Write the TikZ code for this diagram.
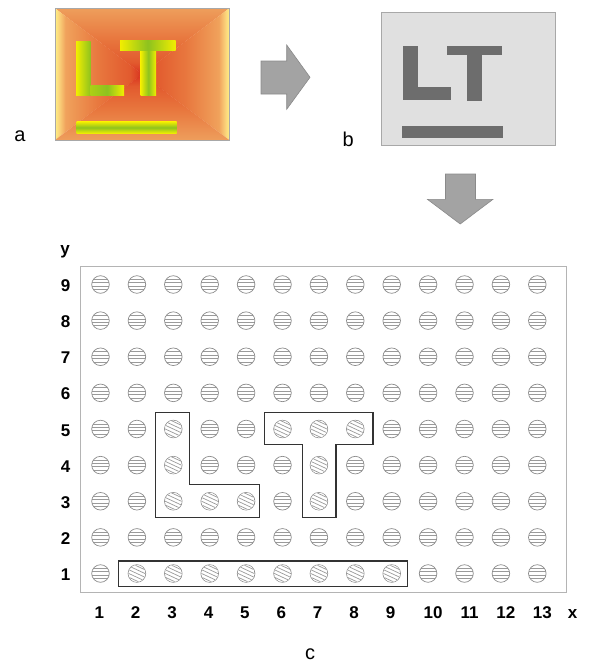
\documentclass[tikz,border=0pt]{standalone}
\usepackage{fontspec}
\setmainfont{Liberation Sans}
\usetikzlibrary{calc}
\definecolor{aY}{HTML}{FFF084}
\definecolor{aY2}{HTML}{FAD079}
\definecolor{aO1}{HTML}{F0A25C}
\definecolor{aO2}{HTML}{E8773E}
\definecolor{aO3}{HTML}{E25A2E}
\definecolor{aR}{HTML}{D8301E}
\definecolor{aOT}{HTML}{EE9E5C}
\definecolor{lY}{HTML}{F2EE00}
\definecolor{lG}{HTML}{8DC21F}
\definecolor{bgB}{HTML}{E0E0E0}
\definecolor{bdB}{HTML}{A8A8A8}
\definecolor{ltB}{HTML}{6D6D6D}
\definecolor{arrF}{HTML}{A3A3A3}
\definecolor{arrD}{HTML}{8A8A8A}
\definecolor{dotline}{HTML}{8C8C8C}
\definecolor{hatch}{HTML}{9A9A9A}
\definecolor{frameC}{HTML}{B4B4B4}
\definecolor{polyC}{HTML}{333333}
\pgfdeclarehorizontalshading{padL}{100bp}{color(0bp)=(aY); color(25bp)=(aY); color(27.5bp)=(aY2); color(31bp)=(aO1); color(50bp)=(aO2); color(68bp)=(aO3); color(75bp)=(aR); color(100bp)=(aR)}
\pgfdeclarehorizontalshading{padR}{100bp}{color(0bp)=(aR); color(25bp)=(aR); color(32bp)=(aO3); color(50bp)=(aO2); color(69bp)=(aO1); color(72.5bp)=(aY2); color(75bp)=(aY); color(100bp)=(aY)}
\pgfdeclareverticalshading{padT}{100bp}{color(0bp)=(aR); color(25bp)=(aR); color(34bp)=(aO3); color(52bp)=(aO2); color(75bp)=(aOT); color(100bp)=(aOT)}
\pgfdeclareverticalshading{padB}{100bp}{color(0bp)=(aOT); color(25bp)=(aOT); color(48bp)=(aO2); color(66bp)=(aO3); color(75bp)=(aR); color(100bp)=(aR)}
\tikzset{
  dot/.style={circle, draw=dotline, fill=white, line width=0.7pt, minimum size=17.6pt, inner sep=0pt,
    path picture={\foreach \k in {-5.1,-1.7,1.7,5.1}
      \draw[hatch, line width=0.7pt] ([yshift=\k pt]path picture bounding box.west) -- ([yshift=\k pt]path picture bounding box.east);}},
  hatchline/.style={hatch, line width=0.7pt},
  numlab/.style={font=\fontsize{17}{20}\selectfont\bfseries, inner sep=0pt, anchor=base},
  lab/.style={font=\fontsize{20}{24}\selectfont, inner sep=0pt, anchor=base},
  poly/.style={draw=polyC, line width=1.4pt, line join=miter},
  blockarrow/.style={fill=arrF, draw=arrD, line width=0.6pt, line join=miter}
}
\begin{document}
\begin{tikzpicture}[x=1pt,y=-1pt]
\useasboundingbox (0,0) rectangle (589,662);
% ---------- image a ----------
\begin{scope}
  \clip (55,8.3) -- (229.3,8.3) -- (142.2,74.2) -- cycle;
  \shade[shading=padT] (55,8.3) rectangle (229.3,74.2);
\end{scope}
\begin{scope}
  \clip (55,8.3) -- (142.6,74.2) -- (55,140) -- cycle;
  \shade[shading=padL] (55,8.3) rectangle (142.2,140);
\end{scope}
\begin{scope}
  \clip (229.3,8.3) -- (141.8,74.2) -- (229.3,140) -- cycle;
  \shade[shading=padR] (142.2,8.3) rectangle (229.3,140);
\end{scope}
\begin{scope}
  \clip (55,140) -- (229.3,140) -- (142.2,74.2) -- cycle;
  \shade[shading=padB] (55,74.2) rectangle (229.3,140);
\end{scope}
\draw[draw=bdB, line width=0.6pt] (55,8.3) rectangle (229.3,140);
\shade[left color=lY, right color=lG] (76,41.7) rectangle (90.7,95);
\shade[left color=lG!70!lY, right color=lY, middle color=lG] (90.7,85) rectangle (124,95);
\shade[left color=lY, right color=lY, middle color=lG] (140.7,50.7) rectangle (156,95);
\shade[left color=lY, right color=lY, middle color=lG] (120,40.7) rectangle (175.7,50.7);
\shade[top color=lY, bottom color=lY, middle color=lG] (76.7,121.7) rectangle (176.7,133.3);
\node[lab] (la) at (20,141.7) {a};
% ---------- arrow right ----------
\draw[blockarrow] (261,61) -- (286.7,61) -- (286.7,45) -- (310,77.3) -- (286.7,109.3) -- (286.7,94) -- (261,94) -- cycle;
% ---------- image b ----------
\draw[fill=bgB, draw=bdB, line width=0.8pt] (381,12.3) rectangle (555.3,145.3);
\fill[ltB] (403.3,45.7) rectangle (418.3,100);
\fill[ltB] (403.3,87.3) rectangle (450.7,100);
\fill[ltB] (447.3,45.7) rectangle (501.7,55);
\fill[ltB] (466.7,45.7) rectangle (482,100.7);
\fill[ltB] (402.3,126) rectangle (503.3,137.7);
\node[lab] (lb) at (348.3,146.7) {b};
% ---------- arrow down ----------
\draw[blockarrow] (445.5,174) -- (475.5,174) -- (475.5,199.3) -- (493,199.3) -- (460.2,224) -- (427.4,199.3) -- (445.5,199.3) -- cycle;
% ---------- grid c ----------
\draw[frameC, line width=0.8pt] (80.7,266.7) rectangle (566.7,592.3);
\foreach \i in {1,...,13}{
  \foreach \j in {1,...,9}{
    \node[dot] (c-\i-\j) at ({100.5+36.4*(\i-1)},{573.5-36.125*(\j-1)}) {};
  }
}
% selected cells: diagonal hatching
\foreach \i/\j in {2/1,3/1,4/1,5/1,6/1,7/1,8/1,9/1,3/5,3/4,3/3,4/3,5/3,6/5,7/5,8/5,7/4,7/3}{
  \begin{scope}
    \clip (c-\i-\j.center) circle[radius=8.4pt];
    \fill[white] (c-\i-\j.center) circle[radius=9pt];
    \foreach \k in {-6.8,-3.4,0,3.4,6.8}{
      \draw[hatchline] ($(c-\i-\j.center)+(65:\k pt)+(-25:-14pt)$) -- ($(c-\i-\j.center)+(65:\k pt)+(-25:14pt)$);
    }
  \end{scope}
}
% outlines
\draw[poly] (155.7,412.5) -- (189.3,412.5) -- (189.3,484.3) -- (259.3,484.3) -- (259.3,517.6) -- (155.7,517.6) -- cycle;
\draw[poly] (264.3,412.5) -- (372.8,412.5) -- (372.8,444.6) -- (336,444.6) -- (336,517.6) -- (302.7,517.6) -- (302.7,444.6) -- (264.3,444.6) -- cycle;
\draw[poly] (118.3,561) -- (407.3,561) -- (407.3,586.3) -- (118.3,586.3) -- cycle;
% axis labels
\foreach \j in {1,...,9}{
  \node[numlab] (ry-\j) at (65.5,{573.5-36.125*(\j-1)+7}) {\j};
}
\foreach \i in {1,...,9}{
  \node[numlab] (cx-\i) at ({99.3+36.4*(\i-1)},618.3) {\i};
}
\foreach \i in {10,...,13}{
  \node[numlab] (cx-\i) at ({105.5+36.4*(\i-1)},618.3) {\i};
}
\node[numlab] (ylab) at (65,254) {y};
\node[numlab] (xlab) at (572.5,618.3) {x};
\node[lab] (lc) at (310,659) {c};
\end{tikzpicture}
\end{document}
